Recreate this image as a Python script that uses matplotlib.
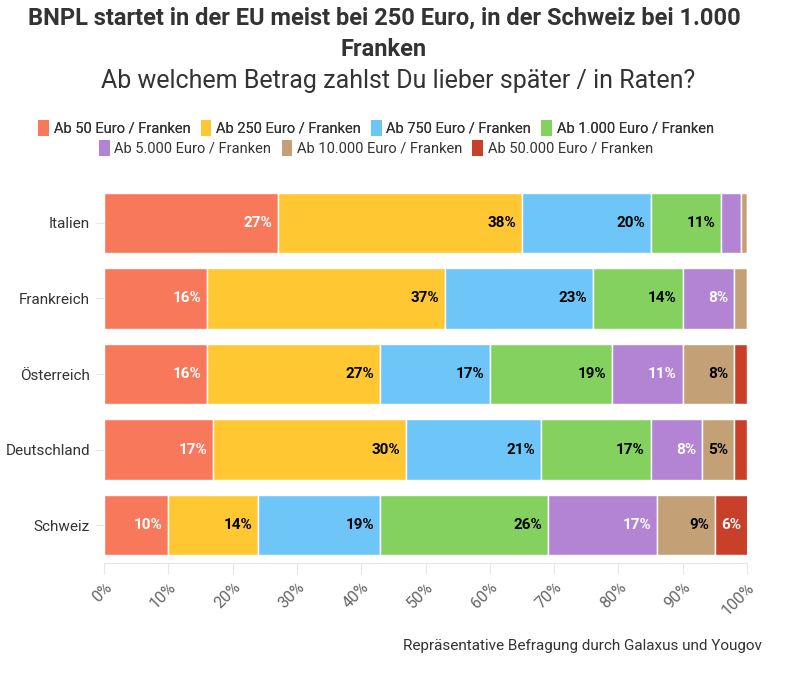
import matplotlib
matplotlib.use("Agg")
import matplotlib.pyplot as plt
from matplotlib.patches import Patch
import numpy as np

plt.rcParams['font.family'] = ['Roboto', 'DejaVu Sans']

countries = ["Italien", "Frankreich", "Österreich", "Deutschland", "Schweiz"]
series_names = ["Ab 50 Euro / Franken", "Ab 250 Euro / Franken", "Ab 750 Euro / Franken",
                "Ab 1.000 Euro / Franken", "Ab 5.000 Euro / Franken", "Ab 10.000 Euro / Franken",
                "Ab 50.000 Euro / Franken"]
ab50 = [27, 16, 16, 17, 10]
ab250 = [38, 37, 27, 30, 14]
ab750 = [20, 23, 17, 21, 19]
ab1000 = [11, 14, 19, 17, 26]
ab5000 = [3, 8, 11, 8, 17]
ab10000 = [1, 2, 8, 5, 9]
ab50000 = [0, 0, 2, 2, 6]
series = [ab50, ab250, ab750, ab1000, ab5000, ab10000, ab50000]
colors = ["#F7785A", "#FFC832", "#6EC6F8", "#84D160", "#B384D4", "#C4A077", "#C9402A"]
label_colors = ["white", "black", "black", "black", "white", "black", "white"]
ticks = [0, 10, 20, 30, 40, 50, 60, 70, 80, 90, 100]
tick_labels = [f"{t}%" for t in ticks]

fig = plt.figure(figsize=(8, 6.79), dpi=100)
W, H = 800, 679
ax = fig.add_axes([104 / W, 1 - 563 / H, (747 - 104) / W, (563 - 185) / H])

y = np.arange(len(countries))
left = np.zeros(len(countries))
for vals, col, lc in zip(series, colors, label_colors):
    vals = np.array(vals, dtype=float)
    ax.barh(y, vals, left=left, height=0.8, color=col, edgecolor="white", linewidth=1)
    for yi, (l, v) in enumerate(zip(left, vals)):
        if v >= 5:
            ax.text(min(l + v, 100) - 0.9, yi, f"{int(v)}%", ha="right", va="center",
                    color=lc, fontsize=11, fontweight="bold", clip_on=False)
    left += vals

ax.set_xlim(0, 100)
ax.set_ylim(len(countries) - 0.5, -0.5)
ax.set_yticks(y)
ax.set_yticklabels(countries, fontsize=11, color="#333333")
ax.set_xticks(ticks)
ax.set_xticklabels(tick_labels, rotation=45, ha="right", rotation_mode="anchor",
                   fontsize=11.5, color="#666666")
ax.tick_params(axis="y", length=6, color="#e6e6e6", pad=4)
ax.tick_params(axis="x", length=8, color="#e6e6e6", pad=4)
for s in ["top", "right", "left"]:
    ax.spines[s].set_visible(False)
ax.spines["bottom"].set_color("#e6e6e6")

fig.text(384 / W, 1 - 18 / H, "BNPL startet in der EU meist bei 250 Euro, in der Schweiz bei 1.000",
         ha="center", va="center", fontsize=17, fontweight="bold", color="#333333")
fig.text(384 / W, 1 - 49 / H, "Franken", ha="center", va="center", fontsize=17,
         fontweight="bold", color="#333333")
fig.text(398 / W, 1 - 81 / H, "Ab welchem Betrag zahlst Du lieber später / in Raten?",
         ha="center", va="center", fontsize=18, color="#333333")

handles = [Patch(facecolor=c, edgecolor="none") for c in colors]
leg_kw = dict(frameon=False, fontsize=10.5, handlelength=0.75, handleheight=1.3,
              handletextpad=0.3, columnspacing=0.7)
leg1 = fig.legend(handles[:4], series_names[:4], loc="center", bbox_to_anchor=(376 / W, 1 - 128 / H),
                  ncol=4, **leg_kw)
fig.add_artist(leg1)
leg2 = fig.legend(handles[4:], series_names[4:], loc="center", bbox_to_anchor=(376 / W, 1 - 148 / H),
                  ncol=3, **leg_kw)
for leg in (leg1, leg2):
    for t in leg.get_texts():
        t.set_color("#333333")

fig.text(762 / W, 1 - 646 / H, "Repräsentative Befragung durch Galaxus und Yougov",
         ha="right", va="center", fontsize=11, color="#333333")

fig.savefig("out.png", dpi=100)
